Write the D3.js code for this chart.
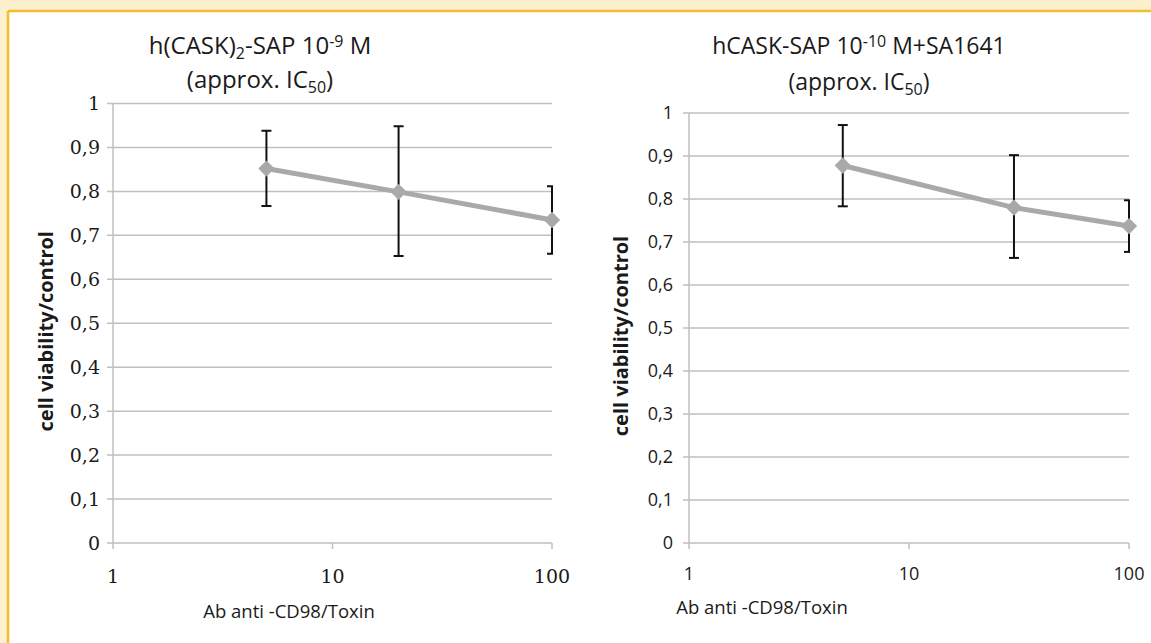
<!DOCTYPE html>
<html>
<head>
<meta charset="utf-8">
<script src="https://cdn.jsdelivr.net/npm/d3@7"></script>
<style>
  body { margin: 0; background: #fdf0cf; }
  svg { display: block; }
</style>
</head>
<body>
<script>
// values
var leftDose = [5, 20, 100];
var leftViability = [0.852, 0.799, 0.735];
var leftErrLow = [0.767, 0.653, 0.658];
var leftErrHigh = [0.938, 0.948, 0.812];

var rightDose = [5, 30, 100];
var rightViability = [0.878, 0.780, 0.737];
var rightErrLow = [0.783, 0.663, 0.677];
var rightErrHigh = [0.972, 0.902, 0.797];

var yTicks = [0, 0.1, 0.2, 0.3, 0.4, 0.5, 0.6, 0.7, 0.8, 0.9, 1];
var xTicks = [1, 10, 100];

var yLabel = "cell viability/control";
var xLabel = "Ab anti -CD98/Toxin";

var width = 1151;
var height = 643;

var svg = d3.select("body")
    .append("svg")
    .attr("width", width)
    .attr("height", height);

// cream frame with yellow edge, white sheet
svg.append("rect")
    .attr("x", 0).attr("y", 0)
    .attr("width", width).attr("height", height)
    .attr("fill", "#fdf0cf");
svg.append("rect")
    .attr("x", 8).attr("y", 11)
    .attr("width", width - 8).attr("height", height - 11)
    .attr("fill", "#ffffff");
svg.append("line")
    .attr("x1", 8).attr("x2", width)
    .attr("y1", 11).attr("y2", 11)
    .attr("stroke", "#f2bf2b").attr("stroke-width", 2.5);
svg.append("line")
    .attr("x1", 8).attr("x2", 8)
    .attr("y1", 11).attr("y2", height)
    .attr("stroke", "#f2bf2b").attr("stroke-width", 2.5);

var commaFormat = d3.formatLocale({
    decimal: ",",
    thousands: ".",
    grouping: [3],
    currency: ["", ""]
}).format("~g");

var panels = [
    {
        dose: leftDose, value: leftViability, lo: leftErrLow, hi: leftErrHigh,
        left: 113, right: 552, top: 103.5, bottom: 543,
        tickFont: "'DejaVu Serif', serif", tickSize: 19, tickPad: 13,
        title: [
            [["h(CASK)", 0], ["2", 1], ["-SAP 10", 0], ["-9", -1], [" M", 0]],
            [["(approx. IC", 0], ["50", 1], [")", 0]]
        ],
        titleX: 260, titleY: 54, titleGap: 34, titleSize: 24,
        yTitleX: 46, xTitleX: 289, xTitleY: 618, xTickY: 583
    },
    {
        dose: rightDose, value: rightViability, lo: rightErrLow, hi: rightErrHigh,
        left: 689, right: 1129, top: 113, bottom: 543,
        tickFont: "'Open Sans', sans-serif", tickSize: 18, tickPad: 16,
        title: [
            [["hCASK-SAP 10", 0], ["-10", -1], [" M+SA1641", 0]],
            [["(approx. IC", 0], ["50", 1], [")", 0]]
        ],
        titleX: 859, titleY: 54, titleGap: 36, titleSize: 23,
        yTitleX: 621, xTitleX: 762, xTitleY: 614, xTickY: 580
    }
];

panels.forEach(function(p) {
    var g = svg.append("g");

    var x = d3.scaleLog()
        .domain([1, 100])
        .range([p.left, p.right]);

    var y = d3.scaleLinear()
        .domain([0, 1])
        .range([p.bottom, p.top]);

    // gridlines
    g.append("g")
        .selectAll("line")
        .data(yTicks)
        .enter()
        .append("line")
        .attr("x1", p.left - 6)
        .attr("x2", p.right)
        .attr("y1", function(d) { return y(d); })
        .attr("y2", function(d) { return y(d); })
        .attr("stroke", "#bfbfbf")
        .attr("stroke-width", 1.5);

    // y axis line
    g.append("line")
        .attr("x1", p.left).attr("x2", p.left)
        .attr("y1", p.top).attr("y2", p.bottom)
        .attr("stroke", "#bfbfbf")
        .attr("stroke-width", 1.5);

    // y tick labels
    g.append("g")
        .selectAll("text")
        .data(yTicks)
        .enter()
        .append("text")
        .attr("x", p.left - p.tickPad)
        .attr("y", function(d) { return y(d); })
        .attr("dy", "0.35em")
        .attr("text-anchor", "end")
        .style("font-family", p.tickFont)
        .style("font-size", p.tickSize + "px")
        .attr("fill", "#1a1a1a")
        .text(function(d) { return commaFormat(d); });

    // x axis ticks
    g.append("g")
        .selectAll("line")
        .data(xTicks)
        .enter()
        .append("line")
        .attr("x1", function(d) { return x(d); })
        .attr("x2", function(d) { return x(d); })
        .attr("y1", p.bottom)
        .attr("y2", p.bottom + 6)
        .attr("stroke", "#bfbfbf")
        .attr("stroke-width", 1.5);

    g.append("g")
        .selectAll("text")
        .data(xTicks)
        .enter()
        .append("text")
        .attr("x", function(d) { return x(d); })
        .attr("y", p.xTickY)
        .attr("text-anchor", "middle")
        .style("font-family", p.tickFont)
        .style("font-size", p.tickSize + "px")
        .attr("fill", "#1a1a1a")
        .text(function(d) { return d; });

    // axis titles
    g.append("text")
        .attr("transform", "translate(" + p.yTitleX + "," + ((p.top + p.bottom) / 2 + 8) + ") rotate(-90)")
        .attr("text-anchor", "middle")
        .attr("dy", "0.35em")
        .style("font-family", "'Open Sans', sans-serif")
        .style("font-size", "20px")
        .style("font-weight", "bold")
        .attr("fill", "#1a1a1a")
        .text(yLabel);

    g.append("text")
        .attr("x", p.xTitleX)
        .attr("y", p.xTitleY)
        .attr("text-anchor", "middle")
        .style("font-family", "'Open Sans', sans-serif")
        .style("font-size", "18.5px")
        .attr("fill", "#1a1a1a")
        .text(xLabel);

    // title, two lines with sub/superscripts
    p.title.forEach(function(line, li) {
        var t = g.append("text")
            .attr("x", p.titleX)
            .attr("y", p.titleY + li * p.titleGap)
            .attr("text-anchor", "middle")
            .style("font-family", "'Open Sans', sans-serif")
            .style("font-size", p.titleSize + "px")
            .attr("fill", "#1a1a1a");
        var shift = 0;
        line.forEach(function(part) {
            var target = part[1] > 0 ? 5 : part[1] * 7;
            t.append("tspan")
                .attr("dy", target - shift)
                .style("font-size", part[1] === 0 ? p.titleSize + "px" : "16px")
                .text(part[0]);
            shift = target;
        });
    });

    var pts = p.dose.map(function(d, i) {
        return { dose: d, v: p.value[i], lo: p.lo[i], hi: p.hi[i] };
    });

    // clip so the cap at the right edge is cut like the original
    var clipId = "clip" + p.left;
    svg.append("clipPath")
        .attr("id", clipId)
        .append("rect")
        .attr("x", p.left - 20).attr("y", p.top - 30)
        .attr("width", p.right - p.left + 21)
        .attr("height", p.bottom - p.top + 40);

    var eb = g.append("g").attr("clip-path", "url(#" + clipId + ")");

    eb.selectAll("line.stem")
        .data(pts)
        .enter()
        .append("line")
        .attr("class", "stem")
        .attr("x1", function(d) { return x(d.dose); })
        .attr("x2", function(d) { return x(d.dose); })
        .attr("y1", function(d) { return y(d.lo); })
        .attr("y2", function(d) { return y(d.hi); })
        .attr("stroke", "#111")
        .attr("stroke-width", 2);

    ["lo", "hi"].forEach(function(k) {
        eb.selectAll("line.cap" + k)
            .data(pts)
            .enter()
            .append("line")
            .attr("class", "cap" + k)
            .attr("x1", function(d) { return x(d.dose) - 5; })
            .attr("x2", function(d) { return x(d.dose) + 5; })
            .attr("y1", function(d) { return y(d[k]); })
            .attr("y2", function(d) { return y(d[k]); })
            .attr("stroke", "#111")
            .attr("stroke-width", 2);
    });

    var line = d3.line()
        .x(function(d) { return x(d.dose); })
        .y(function(d) { return y(d.v); });

    g.append("path")
        .datum(pts)
        .attr("d", line)
        .attr("fill", "none")
        .attr("stroke", "#a9a9a9")
        .attr("stroke-width", 5);

    g.selectAll("path.marker")
        .data(pts)
        .enter()
        .append("path")
        .attr("class", "marker")
        .attr("d", d3.symbol().type(d3.symbolDiamond2).size(170))
        .attr("transform", function(d) {
            return "translate(" + x(d.dose) + "," + y(d.v) + ")";
        })
        .attr("fill", "#a9a9a9");
});
</script>
</body>
</html>
